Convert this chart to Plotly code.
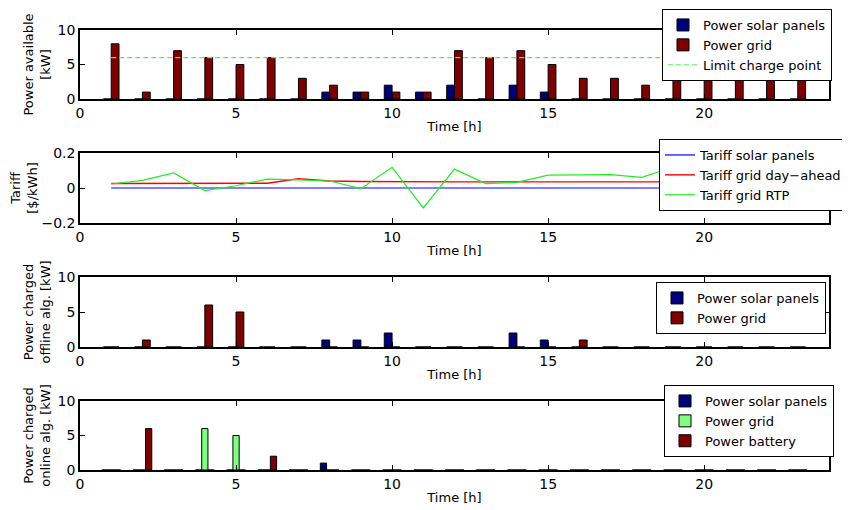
import plotly.graph_objects as go

# ---------------- data ----------------
hours_bar = list(range(1, 24))
hours_line = list(range(1, 25))

avail_solar = [0, 0, 0, 0, 0, 0, 0, 1, 1, 2, 1, 2, 0, 2, 1, 0, 0, 0, 0, 0, 0, 0, 0]
avail_grid = [8, 1, 7, 6, 5, 6, 3, 2, 1, 1, 1, 7, 6, 7, 5, 3, 3, 2, 5, 6, 8, 7, 6]
limit_charge = [6] * 24

tariff_solar = [0.0] * 24
tariff_dayahead = [0.026, 0.026, 0.026, 0.026, 0.026, 0.027, 0.053, 0.040, 0.037, 0.035,
                   0.035, 0.035, 0.035, 0.035, 0.035, 0.035, 0.035, 0.035, 0.035, 0.035,
                   0.035, 0.035, 0.035, 0.035]
tariff_rtp = [0.023, 0.044, 0.086, -0.015, 0.013, 0.051, 0.046, 0.040, -0.004, 0.118,
              -0.114, 0.108, 0.025, 0.032, 0.074, 0.076, 0.076, 0.061, 0.120, 0.100,
              0.080, 0.090, 0.070, 0.060]

off_solar = [0, 0, 0, 0, 0, 0, 0, 1, 1, 2, 0, 0, 0, 2, 1, 0, 0, 0, 0, 0, 0, 0, 0]
off_grid = [0, 1, 0, 6, 5, 0, 0, 0, 0, 0, 0, 0, 0, 0, 0, 1, 0, 0, 0, 0, 0, 0, 0]

on_solar = [0, 0, 0, 0, 0, 0, 0, 1, 0, 0, 0, 0, 0, 0, 0, 0, 0, 0, 0, 0, 0, 0, 0]
on_grid = [0, 0, 0, 6, 5, 0, 0, 0, 0, 0, 0, 0, 0, 0, 0, 0, 0, 0, 0, 0, 0, 0, 0]
on_battery = [0, 6, 0, 0, 0, 2, 0, 0, 0, 0, 0, 0, 0, 0, 0, 0, 0, 0, 0, 0, 0, 0, 0]

x_ticks = [0, 5, 10, 15, 20]
y_ticks_power = [0, 5, 10]
y_ticks_tariff = [-0.2, 0, 0.2]

# ---------------- styles ----------------
C_SOLAR = "#00007f"
C_GRID_DARK = "#7f0000"
C_GRID_LIGHT = "#7fff7f"
FONT = "DejaVu Sans"
# the page body has an 8px margin, so the figure is drawn 8px smaller and
# all reference pixel positions are shifted by 8px
OFF = 8
W, H = 850 - OFF, 510 - OFF

fig = go.Figure()

def bar(x, y, color, name, offset, width, xa, ya, legend):
    return go.Bar(x=x, y=y, name=name, width=width, offset=offset,
                  marker=dict(color=color, line=dict(color="black", width=1)),
                  xaxis=xa, yaxis=ya, legend=legend)

# subplot 1
fig.add_trace(bar(hours_bar, avail_solar, C_SOLAR, "Power solar panels", -0.25, 0.25, "x", "y", "legend"))
fig.add_trace(bar(hours_bar, avail_grid, C_GRID_DARK, "Power grid", 0.0, 0.25, "x", "y", "legend"))
fig.add_trace(go.Scatter(x=hours_line, y=limit_charge, mode="lines", name="Limit charge point",
                         line=dict(color="#55ee55", width=1.2, dash="5px,3px"),
                         xaxis="x", yaxis="y", legend="legend"))

# subplot 2
fig.add_trace(go.Scatter(x=hours_line, y=tariff_solar, mode="lines", name="Tariff solar panels",
                         line=dict(color="#0000ff", width=1.2), xaxis="x2", yaxis="y2", legend="legend2"))
fig.add_trace(go.Scatter(x=hours_line, y=tariff_dayahead, mode="lines", name="Tariff grid day\u2212ahead",
                         line=dict(color="#ff0000", width=1.4), xaxis="x2", yaxis="y2", legend="legend2"))
fig.add_trace(go.Scatter(x=hours_line, y=tariff_rtp, mode="lines", name="Tariff grid RTP",
                         line=dict(color="#22ee22", width=1.2), xaxis="x2", yaxis="y2", legend="legend2"))

# subplot 3
fig.add_trace(bar(hours_bar, off_solar, C_SOLAR, "Power solar panels", -0.25, 0.25, "x3", "y3", "legend3"))
fig.add_trace(bar(hours_bar, off_grid, C_GRID_DARK, "Power grid", 0.0, 0.25, "x3", "y3", "legend3"))

# subplot 4
fig.add_trace(bar(hours_bar, on_solar, C_SOLAR, "Power solar panels", -0.3, 0.2, "x4", "y4", "legend4"))
fig.add_trace(bar(hours_bar, on_grid, C_GRID_LIGHT, "Power grid", -0.1, 0.2, "x4", "y4", "legend4"))
fig.add_trace(bar(hours_bar, on_battery, C_GRID_DARK, "Power battery", 0.1, 0.2, "x4", "y4", "legend4"))

# ---------------- layout ----------------
def px_x(p):
    return (p - OFF) / W

def px_y(p):
    return 1 - (p - OFF) / H

x0, x1 = px_x(80), px_x(829)
rows = [(30, 99), (153, 223), (277, 347), (401, 470)]
ytitles = ["Power available<br>[kW]", "Tariff<br>[$/kWh]",
           "Power charged<br>offline alg. [kW]", "Power charged<br>online alg. [kW]"]
yranges = [[0, 10], [-0.2, 0.2], [0, 10], [0, 10]]
yticks = [y_ticks_power, y_ticks_tariff, y_ticks_power, y_ticks_power]

axis_common = dict(showline=True, linecolor="black", linewidth=1.5, mirror="ticks",
                   ticks="inside", ticklen=5, tickcolor="black", tickwidth=1,
                   showgrid=False, zeroline=False, automargin=False,
                   tickfont=dict(family=FONT, size=14, color="black"))

layout = dict(template="none", width=W, height=H, margin=dict(l=0, r=0, t=0, b=0, autoexpand=False),
              paper_bgcolor="white", plot_bgcolor="white", barmode="overlay",
              showlegend=True, font=dict(family=FONT, size=13, color="black"))

for i, ((top, bot), yt, yr, ytk) in enumerate(zip(rows, ytitles, yranges, yticks), start=1):
    sfx = "" if i == 1 else str(i)
    layout["xaxis" + sfx] = dict(domain=[x0, x1], range=[0, 24], tickvals=x_ticks,
                                 anchor="y" + sfx,
                                 title=dict(text="Time [h]", font=dict(family=FONT, size=13), standoff=2),
                                 **axis_common)
    layout["yaxis" + sfx] = dict(domain=[px_y(bot), px_y(top)], range=yr, tickvals=ytk,
                                 anchor="x" + sfx,
                                 title=dict(text=yt, font=dict(family=FONT, size=13), standoff=4),
                                 **axis_common)

legend_common = dict(bgcolor="white", bordercolor="black", borderwidth=1,
                     font=dict(family=FONT, size=13, color="black"),
                     xanchor="right", yanchor="top", tracegroupgap=0, itemwidth=30)
layout["legend"] = dict(x=px_x(832), y=px_y(9), **legend_common)
layout["legend2"] = dict(x=px_x(848), y=px_y(139), **legend_common)
layout["legend3"] = dict(x=px_x(826), y=px_y(282), **legend_common)
layout["legend4"] = dict(x=px_x(834), y=px_y(385), **legend_common)

fig.update_layout(**layout)
fig.write_html("out.html")
